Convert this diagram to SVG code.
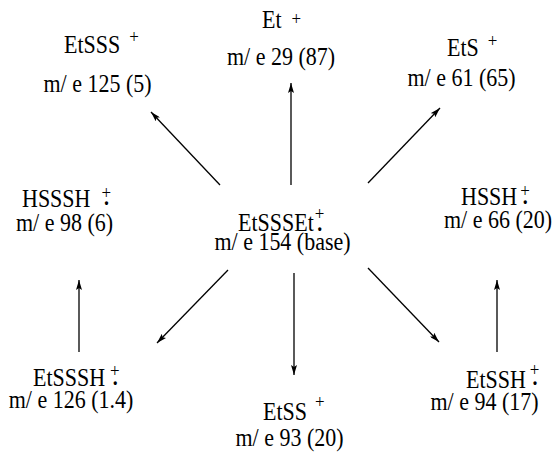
<svg xmlns="http://www.w3.org/2000/svg" width="558" height="454" viewBox="0 0 558 454" font-family="'Liberation Serif', serif">
<defs>
<marker id="ah" viewBox="0 0 10 6" refX="10" refY="3" markerWidth="10" markerHeight="6" markerUnits="userSpaceOnUse" orient="auto">
<path d="M0,0 L10,3 L0,6 L2,3 Z" fill="#000"/>
</marker>
<style>
text{font-family:'Liberation Serif', serif;fill:#000;font-size:22px}
.m{text-anchor:middle}
.sp{font-size:17px}
.dt{font-size:20px;font-weight:bold}
line{stroke:#000;stroke-width:1.3;marker-end:url(#ah)}
</style>
</defs>
<rect width="558" height="454" fill="#fff"/>
<g id="connectors">
<line x1="220" y1="185" x2="151" y2="112"/>
<line x1="291" y1="185" x2="291" y2="83"/>
<line x1="368" y1="183" x2="440" y2="108"/>
<line x1="228" y1="270" x2="157" y2="343"/>
<line x1="294" y1="273" x2="294" y2="375"/>
<line x1="368" y1="268" x2="439" y2="342"/>
<line x1="79" y1="352" x2="79" y2="280"/>
<line x1="497" y1="352" x2="497" y2="280"/>
</g>
<g id="EtSSS">
<text transform="translate(64,53) scale(1,1.12)">EtSSS<tspan class="sp" dx="9" dy="-9">+</tspan></text>
<text class="m" transform="translate(97.5,92) scale(1,1.12)">m/ e 125 (5)</text>
</g>
<g id="Et">
<text transform="translate(262,28) scale(1,1.12)">Et<tspan class="sp" dx="10" dy="-3">+</tspan></text>
<text class="m" transform="translate(281,65) scale(1,1.12)">m/ e 29 (87)</text>
</g>
<g id="EtS">
<text transform="translate(447,56) scale(1,1.12)">EtS<tspan class="sp" dx="9" dy="-8">+</tspan></text>
<text class="m" transform="translate(461.5,86) scale(1,1.12)">m/ e 61 (65)</text>
</g>
<g id="HSSSH">
<text transform="translate(22,207) scale(1,1.12)">HSSSH<tspan class="sp" dx="11" dy="-7">+</tspan><tspan class="dt" dx="-7" dy="5">.</tspan></text>
<text class="m" transform="translate(64.5,231) scale(1,1.12)">m/ e 98 (6)</text>
</g>
<g id="EtSSSEt">
<text transform="translate(238,231) scale(1,1.12)">EtSSSEt<tspan class="sp" dx="1" dy="-10">+</tspan><tspan class="dt" dx="-7" dy="10">.</tspan></text>
<text class="m" transform="translate(282.5,250) scale(1,1.12)">m/ e 154 (base)</text>
</g>
<g id="HSSH">
<text transform="translate(461,205) scale(1,1.12)">HSSH<tspan class="sp" dx="3" dy="-7">+</tspan><tspan class="dt" dx="-7" dy="6">.</tspan></text>
<text class="m" transform="translate(498,228) scale(1,1.12)">m/ e 66 (20)</text>
</g>
<g id="EtSSSH">
<text transform="translate(33,386) scale(1,1.12)">EtSSSH<tspan class="sp" dx="5" dy="-8">+</tspan><tspan class="dt" dx="-7" dy="7">.</tspan></text>
<text class="m" transform="translate(71,408) scale(1,1.12)">m/ e 126 (1.4)</text>
</g>
<g id="EtSS">
<text transform="translate(263,420) scale(1,1.12)">EtSS<tspan class="sp" dx="8" dy="-11">+</tspan></text>
<text class="m" transform="translate(289.5,446) scale(1,1.12)">m/ e 93 (20)</text>
</g>
<g id="EtSSH">
<text transform="translate(466,388) scale(1,1.12)">EtSSH<tspan class="sp" dx="4" dy="-11">+</tspan><tspan class="dt" dx="-7" dy="8">.</tspan></text>
<text class="m" transform="translate(484.5,410) scale(1,1.12)">m/ e 94 (17)</text>
</g>
</svg>
